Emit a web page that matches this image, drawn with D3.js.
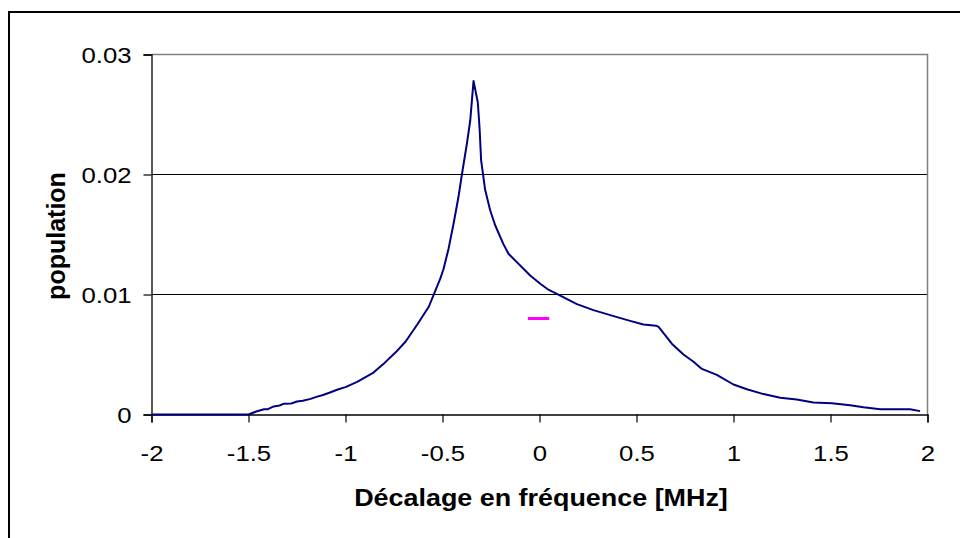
<!DOCTYPE html>
<html>
<head>
<meta charset="utf-8">
<script src="https://cdn.jsdelivr.net/npm/d3@7"></script>
<style>
  html, body { margin: 0; padding: 0; background: #fff; }
  svg { display: block; }
</style>
</head>
<body>
<svg id="chart" width="960" height="538"></svg>
<script>
// ---- data ----
const freqX = [-2, -1.5, -1.46, -1.42, -1.40, -1.37, -1.34, -1.32, -1.28, -1.25, -1.22, -1.18, -1.15, -1.12,
  -1.08, -1.04, -1.00, -0.94, -0.86, -0.82, -0.80, -0.74, -0.69, -0.63, -0.57, -0.54, -0.512, -0.495,
  -0.469, -0.443, -0.418, -0.400, -0.374, -0.357, -0.340, -0.318, -0.309, -0.301, -0.280, -0.254,
  -0.228, -0.186, -0.160, -0.117, -0.048, 0.004, 0.046, 0.107, 0.193, 0.278, 0.382, 0.467, 0.536,
  0.60, 0.614, 0.682, 0.742, 0.794, 0.837, 0.914, 1.0, 1.069, 1.155, 1.241, 1.326, 1.412, 1.507,
  1.601, 1.670, 1.756, 1.910, 1.962];
const population = [0, 0, 0.00025, 0.00044, 0.00044, 0.00067, 0.00075, 0.00089, 0.00092, 0.00108, 0.00114, 0.0013, 0.00147, 0.00161,
  0.00183, 0.00208, 0.00228, 0.00272, 0.00344, 0.0040, 0.00428, 0.0052, 0.00608, 0.0075, 0.0090, 0.0102, 0.0113, 0.0121,
  0.0138, 0.0159, 0.0181, 0.0200, 0.0226, 0.0245, 0.0278, 0.0260, 0.0239, 0.0212, 0.0187, 0.0170,
  0.01575, 0.0142, 0.0134, 0.0127, 0.01158, 0.0109, 0.0104, 0.0099, 0.0092, 0.0087, 0.0082, 0.0078, 0.0075,
  0.0074, 0.0073, 0.0059, 0.0050, 0.0044, 0.0038, 0.0033, 0.0025, 0.0021, 0.0017, 0.0014, 0.00125, 0.0010, 0.00094,
  0.00078, 0.00061, 0.00044, 0.00044, 0.00028];
const markerX = [-0.06, 0.05];
const markerY = [0.008, 0.008];
const xTicks = [-2, -1.5, -1, -0.5, 0, 0.5, 1, 1.5, 2];
const xTickLabels = ["-2", "-1.5", "-1", "-0.5", "0", "0.5", "1", "1.5", "2"];
const yTicks = [0, 0.01, 0.02, 0.03];
const yTickLabels = ["0", "0.01", "0.02", "0.03"];
const xTitle = "Décalage en fréquence [MHz]";
const yTitle = "population";

// ---- layout ----
const FONT = "Liberation Sans, Arial, sans-serif";
const svg = d3.select("#chart");
const L = 151.5, R = 927.5, T = 54.5, B = 414.5;
const x = d3.scaleLinear().domain([-2, 2]).range([L, R]);
const y = d3.scaleLinear().domain([0, 0.03]).range([B, T]);
const crisp = v => Math.round(v - 0.5) + 0.5;

// outer chart border (right/bottom edges fall outside the view)
svg.append("rect").attr("x", 9).attr("y", 12).attr("width", 1000).attr("height", 1000)
  .attr("fill", "none").attr("stroke", "#000").attr("stroke-width", 2);

// gridlines
svg.append("g").selectAll("line").data([0.01, 0.02]).join("line")
  .attr("x1", L).attr("x2", R).attr("y1", d => crisp(y(d))).attr("y2", d => crisp(y(d)))
  .attr("stroke", "#000").attr("stroke-width", 1).attr("shape-rendering", "crispEdges");

// plot area border (top/right grey)
svg.append("path")
  .attr("d", `M${L},${T}H${R}V${B}`)
  .attr("fill", "none").attr("stroke", "#808080").attr("stroke-width", 1.5);

// axes
const FS = 22, SX = 1.17;
const yAxis = svg.append("g").attr("transform", `translate(${L},0)`)
  .call(d3.axisLeft(y).tickValues(yTicks).tickSize(8).tickFormat((d, i) => yTickLabels[i]));
yAxis.attr("font-size", FS).attr("font-family", FONT);
yAxis.select(".domain").attr("stroke", "#000").attr("stroke-width", 1.3);
yAxis.selectAll(".tick line").attr("stroke", "#000").attr("stroke-width", 1.2);
yAxis.selectAll(".tick text")
  .attr("font-size", FS).attr("font-family", FONT).attr("fill", "#000")
  .attr("x", -20 / SX).attr("dy", null).attr("y", 8)
  .attr("transform", `scale(${SX},1)`);

const xAxis = svg.append("g").attr("transform", `translate(0,${B})`)
  .call(d3.axisBottom(x).tickValues(xTicks).tickSize(8).tickFormat((d, i) => xTickLabels[i]));
xAxis.attr("font-size", FS).attr("font-family", FONT);
xAxis.select(".domain").attr("stroke", "#000").attr("stroke-width", 1.3);
xAxis.selectAll(".tick line").attr("stroke", "#000").attr("stroke-width", 1.2);
xAxis.selectAll(".tick text")
  .attr("font-size", FS).attr("font-family", FONT).attr("fill", "#000")
  .attr("y", 46.5).attr("dy", null)
  .attr("transform", `scale(${SX},1)`);

// data line
const pts = freqX.map((d, i) => [d, population[i]]);
svg.append("path").datum(pts)
  .attr("d", d3.line().x(d => x(d[0])).y(d => y(d[1])))
  .attr("fill", "none").attr("stroke", "#000080").attr("stroke-width", 2)
  .attr("stroke-linejoin", "round");

// magenta marker
const mpts = markerX.map((d, i) => [d, markerY[i]]);
svg.append("path").datum(mpts)
  .attr("d", d3.line().x(d => x(d[0])).y(d => y(d[1])))
  .attr("fill", "none").attr("stroke", "#FF00FF").attr("stroke-width", 3);

// titles
svg.append("text").text(xTitle)
  .attr("transform", "translate(541,506) scale(1.17,1)")
  .attr("font-family", FONT)
  .attr("text-anchor", "middle").attr("font-weight", "bold").attr("font-size", 23);
svg.append("text").text(yTitle)
  .attr("transform", "translate(65,236) rotate(-90)")
  .attr("font-family", FONT)
  .attr("text-anchor", "middle").attr("font-weight", "bold").attr("font-size", 25);
</script>
</body>
</html>
